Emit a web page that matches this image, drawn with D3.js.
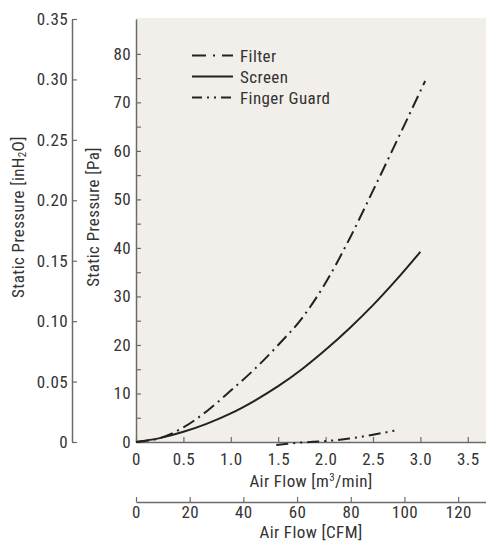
<!DOCTYPE html>
<html>
<head>
<meta charset="utf-8">
<script src="https://cdn.jsdelivr.net/npm/d3@7"></script>
<style>
  body { margin: 0; background: #fff; }
  text { font-family: Roboto, 'Liberation Sans', sans-serif; font-stretch: condensed; letter-spacing: 0.4px; fill: #333; }
</style>
</head>
<body>
<div id="chart"></div>
<script>
// Air flow [m3/min] vs static pressure [Pa]
const FILTER_Q  = [0, 0.25, 0.5, 0.75, 1.0, 1.25, 1.5, 1.75, 2.0, 2.25, 2.5, 2.75, 3.05]
const FILTER_PA = [0, 0.8, 3.0, 6.4, 10.6, 15.0, 20.0, 25.5, 32.8, 41.8, 51.8, 62.0, 74.4]

const SCREEN_Q  = [0, 0.25, 0.5, 0.75, 1.0, 1.25, 1.5, 1.75, 2.0, 2.25, 2.5, 2.75, 3.0]
const SCREEN_PA = [0, 0.8, 2.1, 3.8, 5.9, 8.5, 11.5, 15.0, 19.0, 23.4, 28.2, 33.5, 39.2]

const GUARD_Q  = [1.48, 1.6, 1.75, 2.0, 2.25, 2.5, 2.77]
const GUARD_PA = [-0.6, -0.35, -0.1, 0.2, 0.7, 1.5, 2.5]

const SERIES_NAMES = ['Filter', 'Screen', 'Finger Guard']

// Tick labels
const Q_TICKS = [0, 0.5, 1.0, 1.5, 2.0, 2.5, 3.0, 3.5]
const CFM_TICKS = [0, 20, 40, 60, 80, 100, 120]
const PA_TICKS = [0, 10, 20, 30, 40, 50, 60, 70, 80]
const PA_MINOR = [5, 15, 25, 35, 45, 55, 65, 75]
const INH2O_TICKS = [0, 0.05, 0.10, 0.15, 0.20, 0.25, 0.30, 0.35]

// unit conversions
const PA_PER_INH2O = 249.089
const CFM_PER_M3MIN = 35.3147

// Chart layout
const WIDTH = 486
const HEIGHT = 546
const PLOT_LEFT = 136
const PLOT_RIGHT = 486
const PLOT_TOP = 18
const PLOT_BOTTOM = 442
const PX_PER_Q = 94.8
const H2O_AXIS_X = 72
const CFM_AXIS_Y = 502
const FONT = "Roboto, 'Liberation Sans', sans-serif"
const FONT_SIZE = 17

const svg = d3.select('#chart').append('svg')
    .attr('width', WIDTH)
    .attr('height', HEIGHT)

// Scales
const x = d3.scaleLinear()
    .domain([0, (PLOT_RIGHT - PLOT_LEFT) / PX_PER_Q])
    .range([PLOT_LEFT, PLOT_RIGHT])
const xCfm = d3.scaleLinear()
    .domain(x.domain().map(d => d * CFM_PER_M3MIN))
    .range(x.range())
const yInH2O = d3.scaleLinear()
    .domain([0, 0.35])
    .range([PLOT_BOTTOM, PLOT_TOP + 1])
const y = d3.scaleLinear()
    .domain(yInH2O.domain().map(d => d * PA_PER_INH2O))
    .range(yInH2O.range())

// plot background
svg.append('rect')
    .attr('x', PLOT_LEFT)
    .attr('y', PLOT_TOP)
    .attr('width', PLOT_RIGHT - PLOT_LEFT)
    .attr('height', PLOT_BOTTOM - PLOT_TOP)
    .attr('fill', '#f2efea')

function styleAxis(g) {
    g.select('.domain').attr('stroke', '#6b6b6b').attr('stroke-width', 1.5)
    g.selectAll('.tick line').attr('stroke', '#6b6b6b').attr('stroke-width', 1.2)
    g.selectAll('.tick text')
        .style('font-family', FONT)
        .style('font-stretch', 'condensed')
        .style('font-size', FONT_SIZE + 'px')
        .attr('fill', '#333')
}

// Pa axis (minor ticks first, then labelled ticks)
svg.append('g')
    .attr('transform', `translate(${PLOT_LEFT},0)`)
    .call(d3.axisLeft(y).tickValues(PA_MINOR).tickSizeInner(-5).tickSizeOuter(0).tickFormat(''))
    .call(g => g.select('.domain').remove())
    .call(g => g.selectAll('.tick line').attr('stroke', '#6b6b6b').attr('stroke-width', 1.2))
svg.append('g')
    .attr('transform', `translate(${PLOT_LEFT},0)`)
    .call(d3.axisLeft(y).tickValues(PA_TICKS).tickSizeInner(-5).tickSizeOuter(0).tickPadding(5).tickFormat(d3.format('d')))
    .call(styleAxis)

// inH2O axis
svg.append('g')
    .attr('transform', `translate(${H2O_AXIS_X},0)`)
    .call(d3.axisLeft(yInH2O).tickValues(INH2O_TICKS).tickSizeInner(-5).tickSizeOuter(0).tickPadding(4)
        .tickFormat(d => d === 0 ? '0' : d3.format('.2f')(d)))
    .call(styleAxis)

// m3/min axis
svg.append('g')
    .attr('transform', `translate(0,${PLOT_BOTTOM})`)
    .call(d3.axisBottom(x).tickValues(Q_TICKS).tickSizeInner(-5).tickSizeOuter(0).tickPadding(11)
        .tickFormat(d => d === 0 ? '0' : d3.format('.1f')(d)))
    .call(styleAxis)

// CFM axis
svg.append('g')
    .attr('transform', `translate(0,${CFM_AXIS_Y})`)
    .call(d3.axisBottom(xCfm).tickValues(CFM_TICKS).tickSizeInner(-5).tickSizeOuter(0).tickPadding(4)
        .tickFormat(d3.format('d')))
    .call(styleAxis)

// Axis titles
const xTitle = svg.append('text')
    .attr('x', (PLOT_LEFT + PLOT_RIGHT) / 2)
    .attr('y', 487)
    .attr('text-anchor', 'middle')
    .style('font-size', FONT_SIZE + 'px')
xTitle.append('tspan').text('Air Flow [m')
xTitle.append('tspan').attr('dy', -6).style('font-size', '11px').text('3')
xTitle.append('tspan').attr('dy', 6).text('/min]')

svg.append('text')
    .attr('x', (PLOT_LEFT + PLOT_RIGHT) / 2)
    .attr('y', 538)
    .attr('text-anchor', 'middle')
    .style('font-size', FONT_SIZE + 'px')
    .text('Air Flow [CFM]')

svg.append('text')
    .attr('transform', 'translate(99,217) rotate(-90)')
    .attr('text-anchor', 'middle')
    .style('font-size', FONT_SIZE + 'px')
    .text('Static Pressure [Pa]')

const h2oTitle = svg.append('text')
    .attr('transform', 'translate(24,217) rotate(-90)')
    .attr('text-anchor', 'middle')
    .style('font-size', FONT_SIZE + 'px')
h2oTitle.append('tspan').text('Static Pressure [inH')
h2oTitle.append('tspan').attr('dy', 2).style('font-size', '11px').text('2')
h2oTitle.append('tspan').attr('dy', -2).text('O]')

// Curves
const series = [
    { name: SERIES_NAMES[0], q: FILTER_Q, pa: FILTER_PA, dash: '13,5,2,5' },
    { name: SERIES_NAMES[1], q: SCREEN_Q, pa: SCREEN_PA, dash: null },
    { name: SERIES_NAMES[2], q: GUARD_Q, pa: GUARD_PA, dash: '12,5,2,5,2,5' }
]

const line = d3.line()
    .x(d => x(d[0]))
    .y(d => y(d[1]))
    .curve(d3.curveMonotoneX)

svg.append('g').selectAll('path')
    .data(series).enter()
    .append('path')
    .attr('d', s => line(s.q.map((q, i) => [q, s.pa[i]])))
    .attr('fill', 'none')
    .attr('stroke', '#222')
    .attr('stroke-width', 2)
    .attr('stroke-dasharray', s => s.dash)

// Legend
const legend = svg.append('g').selectAll('g')
    .data(series).enter()
    .append('g')
    .attr('transform', (d, i) => `translate(192,${55.5 + i * 21})`)
legend.append('line')
    .attr('x1', 0).attr('x2', 41)
    .attr('stroke', '#222')
    .attr('stroke-width', 2)
    .attr('stroke-dasharray', (d, i) => i === 0 ? '14,7,2,7' : (i === 2 ? '10,5,2,5,2,5' : null))
legend.append('text')
    .attr('x', 48)
    .attr('y', 6)
    .style('font-size', FONT_SIZE + 'px')
    .text(d => d.name)
</script>
</body>
</html>
